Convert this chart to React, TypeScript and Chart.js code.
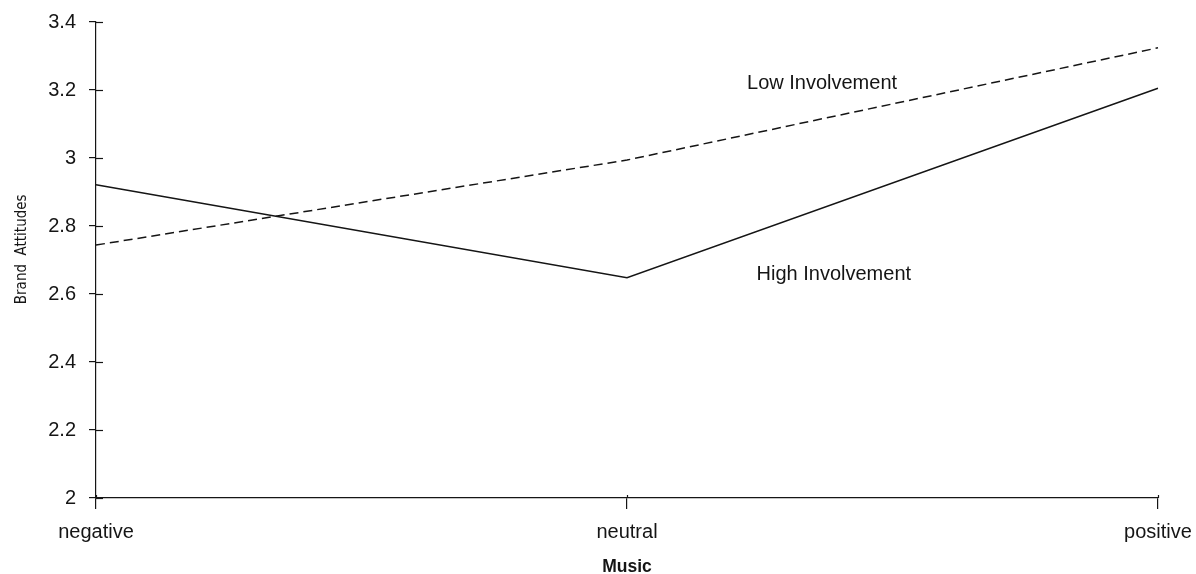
import React, { useEffect, useRef } from "react";
import { Chart, registerables } from "chart.js";

Chart.register(...registerables);

const categories = ["negative", "neutral", "positive"];
const highInvolvement = [2.921, 2.648, 3.205];
const lowInvolvement = [2.744, 2.994, 3.324];
const yTicks = [2, 2.2, 2.4, 2.6, 2.8, 3, 3.2, 3.4];
const yTickLabels = ["2", "2.2", "2.4", "2.6", "2.8", "3", "3.2", "3.4"];
const seriesLabels = ["Low Involvement", "High Involvement"];
// label anchors in data units: [category index (fractional), value]
const labelAnchors = [
  [1.226, 3.204],
  [1.244, 2.642],
];

const FONT = "'Liberation Sans', Arial, Helvetica, sans-serif";
const NARROW = "'Liberation Sans Narrow', 'Arial Narrow', 'DejaVu Sans Condensed', sans-serif";
const INK = "#151515";

export default function App() {
  const ref = useRef<HTMLCanvasElement | null>(null);

  useEffect(() => {
    document.body.style.margin = "0";
    const canvas = ref.current;
    if (!canvas) return;

    const overlay = {
      id: "overlay",
      afterDraw(chart: any) {
        const ctx = chart.ctx;
        const xs = chart.scales.x;
        const ys = chart.scales.y;
        const area = chart.chartArea;
        ctx.save();
        ctx.strokeStyle = INK;
        ctx.lineWidth = 1.2;
        // inner halves of the ticks
        ys.ticks.forEach((t: any) => {
          const py = Math.round(ys.getPixelForValue(t.value)) + 0.5;
          ctx.beginPath();
          ctx.moveTo(area.left, py);
          ctx.lineTo(area.left + 7, py);
          ctx.stroke();
        });
        categories.forEach((_, i) => {
          const px = Math.round(xs.getPixelForValue(i)) + 0.5;
          ctx.beginPath();
          ctx.moveTo(px, area.bottom);
          ctx.lineTo(px, area.bottom - 3);
          ctx.stroke();
        });
        // series labels
        ctx.fillStyle = INK;
        ctx.font = `20px ${FONT}`;
        ctx.textAlign = "left";
        ctx.textBaseline = "alphabetic";
        seriesLabels.forEach((s, i) => {
          const [cx, v] = labelAnchors[i];
          ctx.fillText(s, xs.getPixelForValue(cx), ys.getPixelForValue(v));
        });
        ctx.restore();
      },
    };

    const chart = new Chart(canvas, {
      type: "line",
      data: {
        labels: categories,
        datasets: [
          {
            label: seriesLabels[1],
            data: highInvolvement,
            borderColor: INK,
            borderWidth: 1.5,
            pointRadius: 0,
            tension: 0,
            fill: false,
          },
          {
            label: seriesLabels[0],
            data: lowInvolvement,
            borderColor: INK,
            borderWidth: 1.5,
            borderDash: [9, 5],
            pointRadius: 0,
            tension: 0,
            fill: false,
          },
        ],
      },
      options: {
        responsive: false,
        animation: false,
        devicePixelRatio: 1,
        layout: { padding: { top: 22, right: 38, bottom: 0, left: 0 } },
        plugins: {
          legend: { display: false },
          tooltip: { enabled: false },
          title: { display: false },
        },
        scales: {
          x: {
            type: "category",
            offset: false,
            afterFit: (s: any) => {
              s.height = 76;
              s.paddingLeft = 0;
              s.paddingRight = 0;
            },
            border: { display: true, color: INK, width: 1.2 },
            grid: {
              display: true,
              drawOnChartArea: false,
              drawTicks: true,
              tickLength: 11,
              color: INK,
              lineWidth: 1.2,
            },
            ticks: {
              color: INK,
              font: { family: FONT, size: 20 },
              padding: 11,
              maxRotation: 0,
              autoSkip: false,
            },
            title: {
              display: true,
              text: "Music",
              color: INK,
              font: { family: FONT, size: 17.5, weight: "bold", lineHeight: "14px" },
              padding: 0,
            },
          },
          y: {
            type: "linear",
            min: 2,
            max: 3.4,
            afterFit: (s: any) => {
              s.width = 96;
              s.paddingTop = 0;
              s.paddingBottom = 0;
            },
            afterBuildTicks: (s: any) => {
              s.ticks = yTicks.map((v) => ({ value: v }));
            },
            border: { display: true, color: INK, width: 1.2 },
            grid: {
              display: true,
              drawOnChartArea: false,
              drawTicks: true,
              tickLength: 7,
              color: INK,
              lineWidth: 1.2,
            },
            ticks: {
              color: INK,
              font: { family: FONT, size: 20 },
              padding: 13,
              callback: (v: any) => {
                const i = yTicks.findIndex((t) => Math.abs(t - Number(v)) < 1e-6);
                return i >= 0 ? yTickLabels[i] : "";
              },
            },
            title: {
              display: true,
              text: "     Brand  Attitudes",
              color: INK,
              font: { family: NARROW, size: 15, lineHeight: 1 },
              padding: { top: 15, bottom: 0 },
            },
          },
        },
      },
      plugins: [overlay],
    });

    return () => chart.destroy();
  }, []);

  return (
    <div style={{ width: 1196, height: 574, position: "relative" }}>
      <canvas ref={ref} width={1196} height={574} style={{ display: "block" }} />
    </div>
  );
}
